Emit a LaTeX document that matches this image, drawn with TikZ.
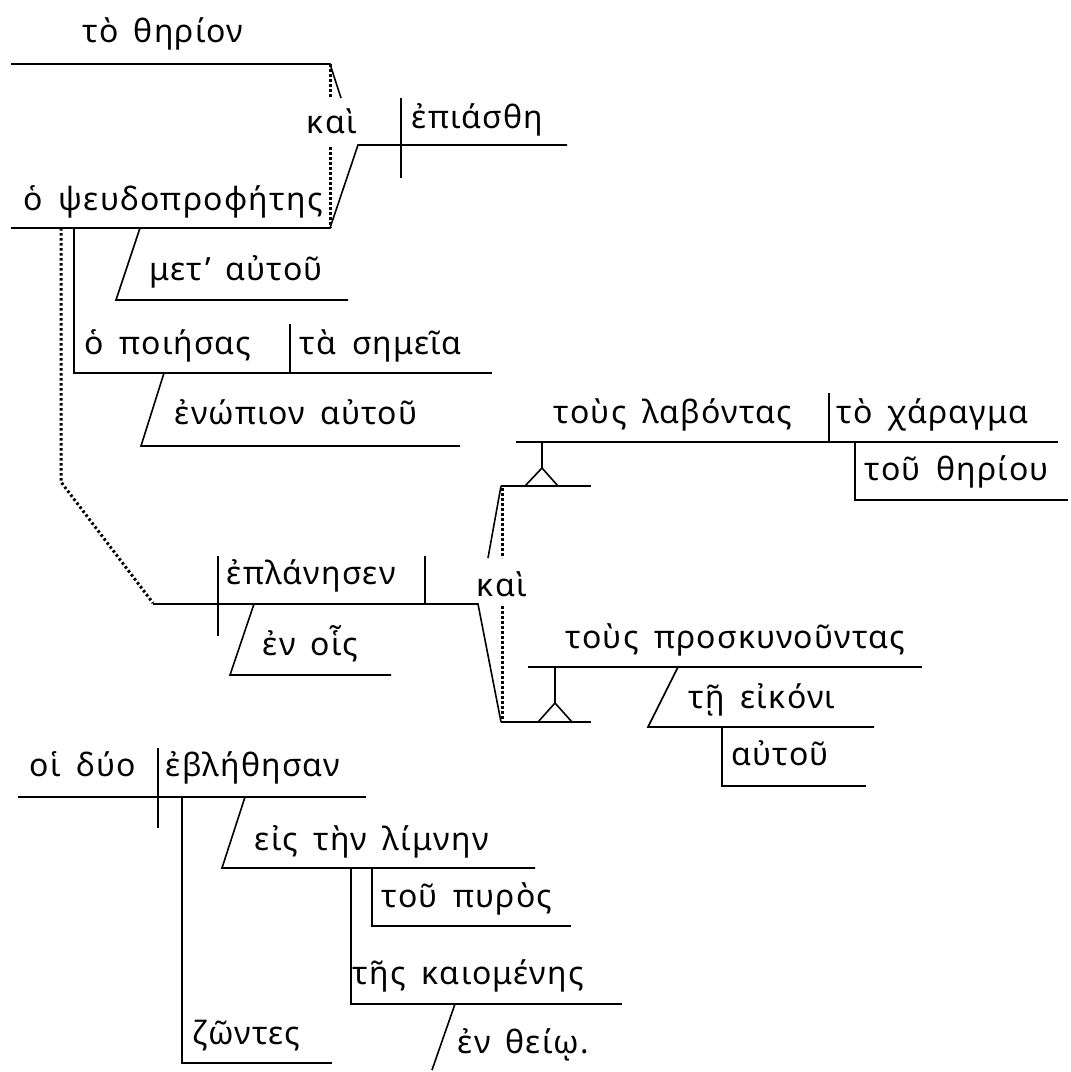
\documentclass[tikz,border=0pt]{standalone}
\usepackage{fontspec}
\newfontfamily\gr[LetterSpace=4,WordSpace=1.6]{Noto Sans}
\begin{document}
\begin{tikzpicture}[x=1pt,y=-1pt,line width=1.6pt,
  lbl/.style={anchor=base west,inner sep=0pt,font=\gr\fontsize{32}{38}\selectfont},
  dots/.style={line width=3pt,dash pattern=on 2.5pt off 2.5pt}]
\useasboundingbox (0,0) rectangle (1071,1072);
% texts
\node[lbl] (t1) at (82,42) {τὸ θηρίον};
\node[lbl] (k1) at (306,133) {καὶ};
\node[lbl] (v1) at (411,128) {ἐπιάσθη};
\node[lbl] (s2) at (23,210) {ὁ ψευδοπροφήτης};
\node[lbl] (m1) at (149,280) {μετ’ αὐτοῦ};
\node[lbl] (p1) at (84,354) {ὁ ποιήσας};
\node[lbl] (p2) at (299,354) {τὰ σημεῖα};
\node[lbl] (p3) at (174,424) {ἐνώπιον αὐτοῦ};
\node[lbl] (l1) at (553,423) {τοὺς λαβόντας};
\node[lbl] (l2) at (836,423) {τὸ χάραγμα};
\node[lbl] (l3) at (864,480) {τοῦ θηρίου};
\node[lbl] (e1) at (226,584) {ἐπλάνησεν};
\node[lbl] (k2) at (476,596) {καὶ};
\node[lbl] (e2) at (262,655) {ἐν οἷς};
\node[lbl] (r1) at (565,648) {τοὺς προσκυνοῦντας};
\node[lbl] (r2) at (688,708) {τῇ εἰκόνι};
\node[lbl] (r3) at (731,765) {αὐτοῦ};
\node[lbl] (b1) at (29,776) {οἱ δύο};
\node[lbl] (b2) at (165,776) {ἐβλήθησαν};
\node[lbl] (b3) at (254,850) {εἰς τὴν λίμνην};
\node[lbl] (b4) at (381,907) {τοῦ πυρὸς};
\node[lbl] (b5) at (352,984) {τῆς καιομένης};
\node[lbl] (b6) at (192,1044) {ζῶντες};
\node[lbl] (b7) at (457,1053) {ἐν θείῳ.};
% first clause
\draw (11,64) -- (330,64) -- (341,98);
\draw (11,228) -- (330,228) -- (358,145) -- (567,145);
\draw[dots] (330,64) -- (330,97);
\draw[dots] (330,147) -- (330,228);
\draw (401,98) -- (401,178);
\draw (140,228) -- (116,300) -- (348,300);
\draw (74,228) -- (74,373) -- (492,373);
\draw (290,324) -- (290,373);
\draw (164,373) -- (141,446) -- (460,446);
\draw[dots] (61,228) -- (61,482) -- (153,603);
% eplanesen
\draw (153,604) -- (478,604) -- (501,722);
\draw (501,486) -- (488,558);
\draw (425,556) -- (425,604);
\draw (218,556) -- (218,636);
\draw (254,604) -- (230,675) -- (391,675);
% labontas
\draw (516,442) -- (1058,442);
\draw (829,393) -- (829,442);
\draw (855,442) -- (855,500) -- (1068,500);
\draw (542,442) -- (542,468);
\draw (525,486) -- (542,468) -- (558,486);
\draw (501,486) -- (591,486);
\draw[dots] (502,488) -- (502,558);
\draw[dots] (502,606) -- (502,720);
% proskynountas
\draw (528,667) -- (922,667);
\draw (555,667) -- (555,703);
\draw (538,722) -- (555,703) -- (572,722);
\draw (501,722) -- (591,722);
\draw (678,667) -- (648,727) -- (874,727);
\draw (722,727) -- (722,786) -- (866,786);
% last clause
\draw (18,797) -- (366,797);
\draw (158,748) -- (158,828);
\draw (182,797) -- (182,1063) -- (332,1063);
\draw (245,797) -- (222,868) -- (535,868);
\draw (372,868) -- (372,926) -- (571,926);
\draw (351,868) -- (351,1004) -- (622,1004);
\draw (455,1004) -- (432,1070);
\end{tikzpicture}
\end{document}
